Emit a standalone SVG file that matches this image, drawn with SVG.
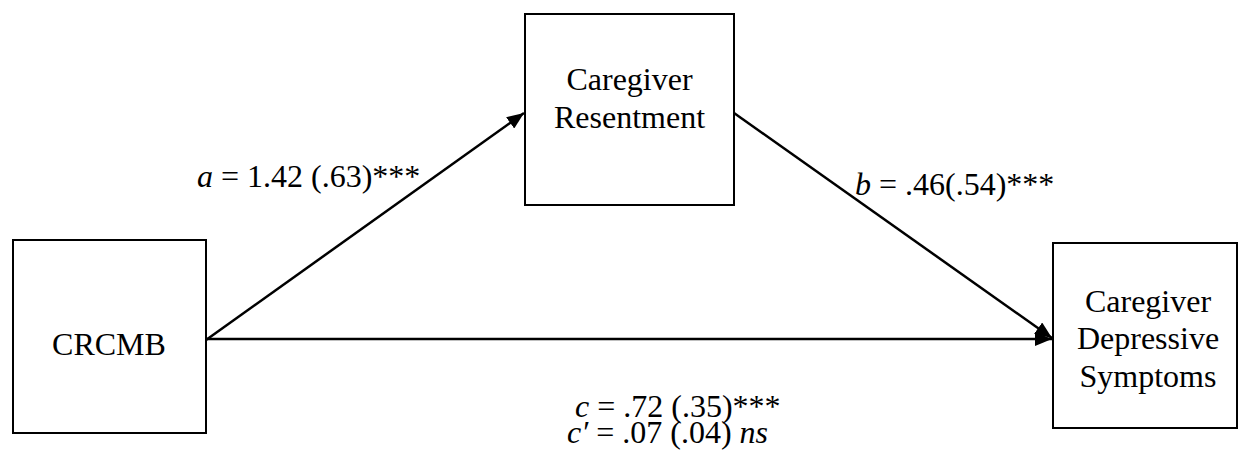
<svg xmlns="http://www.w3.org/2000/svg" width="1239" height="456" viewBox="0 0 1239 456">
<style>
.box{fill:#fff;stroke:#000;stroke-width:2}
.t{font-family:"Liberation Serif","Times New Roman",serif;font-size:32px;fill:#000}
.c{text-anchor:middle}
.e{stroke:#000;stroke-width:2.5;fill:none}
</style>
<defs>
<marker id="ah" markerUnits="userSpaceOnUse" markerWidth="18" markerHeight="14" refX="17" refY="7" orient="auto">
<path d="M0,0 L17,7 L0,14 Z" fill="#000"/>
</marker>
</defs>
<rect width="1239" height="456" fill="#fff"/>
<g id="connectors">
<line class="e" x1="206" y1="340" x2="524" y2="113" marker-end="url(#ah)"/>
<line class="e" x1="734" y1="113" x2="1052" y2="338" marker-end="url(#ah)"/>
<line class="e" x1="206" y1="339" x2="1052" y2="339" marker-end="url(#ah)"/>
</g>
<g id="crcmb">
<rect class="box" x="13" y="240" width="193" height="193"/>
<text class="t c" x="109" y="355">CRCMB</text>
</g>
<g id="resentment">
<rect class="box" x="525" y="14" width="209" height="191"/>
<text class="t c" x="629.5" y="90">Caregiver</text>
<text class="t c" x="629.5" y="128">Resentment</text>
</g>
<g id="depressive">
<rect class="box" x="1053" y="243" width="184" height="185"/>
<text class="t c" x="1148" y="312">Caregiver</text>
<text class="t c" x="1148" y="349">Depressive</text>
<text class="t c" x="1148" y="387">Symptoms</text>
</g>
<g id="labels">
<text class="t" x="197" y="187"><tspan font-style="italic">a</tspan> = 1.42 (.63)***</text>
<text class="t" x="855" y="195"><tspan font-style="italic">b</tspan> = .46(.54)***</text>
<text class="t" x="575" y="417"><tspan font-style="italic">c</tspan> = .72 (.35)***</text>
<text class="t" x="567" y="443"><tspan font-style="italic">c′</tspan> = .07 (.04) <tspan font-style="italic">ns</tspan></text>
</g>
</svg>
